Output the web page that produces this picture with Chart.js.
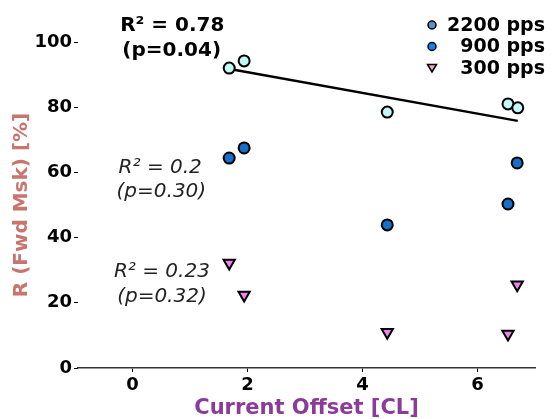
<!DOCTYPE html>
<html>
<head>
<meta charset="utf-8">
<script src="https://cdn.jsdelivr.net/npm/chart.js@4.4.1/dist/chart.umd.min.js"></script>
<style>
  html, body { margin: 0; padding: 0; background: #fff; }
  #wrap { width: 553px; height: 419px; }
</style>
</head>
<body>
<div id="wrap"><canvas id="chart"></canvas></div>
<script>
// Values
const offsets2200 = [1.68, 1.94, 4.43, 6.53, 6.70];
const values2200 = [92.0, 94.2, 78.5, 81.0, 79.8];
const offsets900 = [1.68, 1.94, 4.43, 6.53, 6.69];
const values900 = [64.4, 67.5, 43.9, 50.3, 62.9];
const offsets300 = [1.68, 1.94, 4.43, 6.53, 6.69];
const values300 = [32.2, 22.4, 11.0, 10.4, 25.5];
const fitOffsets = [1.69, 6.70];
const fitValues = [91.7, 75.8];
const seriesNames = ["2200 pps", "900 pps", "300 pps"];
const xTicks = [0, 2, 4, 6];
const yTicks = [0, 20, 40, 60, 80, 100];

// Fit statistics, anchored in data space
const notes = [
  { text: "R\u00b2 = 0.78", x: 0.69, y: 104.9, bold: true },
  { text: "(p=0.04)", x: 0.68, y: 97.2, bold: true },
  { text: "R\u00b2 = 0.2", x: 0.48, y: 61.3, bold: false },
  { text: "(p=0.30)", x: 0.50, y: 54.0, bold: false },
  { text: "R\u00b2 = 0.23", x: 0.51, y: 29.4, bold: false },
  { text: "(p=0.32)", x: 0.51, y: 21.8, bold: false },
];

const FONT = "'DejaVu Sans', Verdana, sans-serif";

function points(xs, ys) {
  return xs.map((x, i) => ({ x: x, y: ys[i] }));
}

// Draws the R²/p text next to each group
const notesPlugin = {
  id: "notes",
  afterDraw(chart) {
    const ctx = chart.ctx;
    const xs = chart.scales.x, ys = chart.scales.y;
    ctx.save();
    ctx.textAlign = "center";
    ctx.textBaseline = "middle";
    notes.forEach(function (n) {
      ctx.font = n.bold ? "bold 20px " + FONT : "italic 20px " + FONT;
      ctx.fillStyle = n.bold ? "#000" : "#222";
      ctx.fillText(n.text, xs.getPixelForValue(n.x), ys.getPixelForValue(n.y));
    });
    ctx.restore();
  },
};

// Legend in the top right corner, labels right aligned
const legendPlugin = {
  id: "cornerLegend",
  afterDraw(chart, args, opts) {
    const ctx = chart.ctx;
    ctx.save();
    ctx.font = "bold 19px " + FONT;
    ctx.textBaseline = "middle";
    ctx.textAlign = "right";
    let row = 0;
    chart.data.datasets.forEach(function (ds) {
      if (!ds.legendColor) return;
      const y = opts.top + row * opts.rowHeight;
      ctx.fillStyle = ds.legendColor;
      ctx.strokeStyle = "#000";
      ctx.lineWidth = 1.5;
      ctx.beginPath();
      if (ds.pointStyle === "triangle") {
        ctx.moveTo(opts.markerX - 4.5, y - 3.5);
        ctx.lineTo(opts.markerX + 4.5, y - 3.5);
        ctx.lineTo(opts.markerX, y + 4);
        ctx.closePath();
      } else {
        ctx.arc(opts.markerX, y, 4, 0, Math.PI * 2);
      }
      ctx.fill();
      ctx.stroke();
      ctx.fillStyle = "#000";
      ctx.fillText(ds.label, opts.textRight, y + 1);
      row++;
    });
    ctx.restore();
  },
};

new Chart(document.getElementById("chart").getContext("2d"), {
  data: {
    datasets: [
      {
        type: "line",
        label: "fit",
        data: points(fitOffsets, fitValues),
        borderColor: "#000",
        borderWidth: 2.5,
        pointRadius: 0,
        fill: false,
        order: 4,
      },
      {
        type: "scatter",
        label: seriesNames[0],
        data: points(offsets2200, values2200),
        pointStyle: "circle",
        pointRadius: 5.5,
        pointBorderWidth: 2,
        backgroundColor: "#c4f8f6",
        borderColor: "#000",
        legendColor: "#5b8fc9",
        order: 1,
      },
      {
        type: "scatter",
        label: seriesNames[1],
        data: points(offsets900, values900),
        pointStyle: "circle",
        pointRadius: 5.5,
        pointBorderWidth: 2,
        backgroundColor: "#1570cc",
        borderColor: "#000",
        legendColor: "#0a86f2",
        order: 2,
      },
      {
        type: "scatter",
        label: seriesNames[2],
        data: points(offsets300, values300),
        pointStyle: "triangle",
        rotation: 180,
        pointRadius: 6.5,
        pointBorderWidth: 2,
        backgroundColor: "#ee82ee",
        borderColor: "#000",
        legendColor: "#f2a7cc",
        order: 3,
      },
    ],
  },
  options: {
    responsive: true,
    maintainAspectRatio: false,
    animation: false,
    layout: { padding: { top: 42, right: 18, left: 0, bottom: 0 } },
    plugins: {
      legend: { display: false },
      tooltip: { enabled: false },
      cornerLegend: { markerX: 432, textRight: 545, top: 25, rowHeight: 21.5 },
    },
    scales: {
      x: {
        type: "linear",
        min: -0.95,
        max: 7.0,
        afterBuildTicks: function (scale) {
          scale.ticks = xTicks.map((v) => ({ value: v }));
        },
        afterFit: function (scale) {
          scale.height = 51;
        },
        grid: { drawOnChartArea: false, tickLength: 4, color: "#000", tickWidth: 1 },
        border: { display: true, color: "#333", width: 1.5 },
        ticks: { color: "#000", font: { family: FONT, size: 18, weight: "bold" }, padding: 3 },
        title: {
          display: true,
          text: "Current Offset [CL]",
          color: "#8b3b98",
          font: { family: FONT, size: 21, weight: "bold", lineHeight: 1 },
          padding: { top: 0, bottom: 0 },
        },
      },
      y: {
        type: "linear",
        min: 0,
        max: 100,
        afterBuildTicks: function (scale) {
          scale.ticks = yTicks.map((v) => ({ value: v }));
        },
        afterFit: function (scale) {
          scale.width = 78;
        },
        grid: { drawOnChartArea: false, tickLength: 4, color: "#000", tickWidth: 1 },
        border: { display: false },
        ticks: { color: "#000", font: { family: FONT, size: 18, weight: "bold" }, padding: 2 },
        title: {
          display: true,
          text: "R (Fwd Msk) [%]",
          color: "#c9756f",
          font: { family: FONT, size: 20, weight: "bold", lineHeight: 1 },
          padding: { top: 12, bottom: 0 },
        },
      },
    },
  },
  plugins: [notesPlugin, legendPlugin],
});
</script>
</body>
</html>
